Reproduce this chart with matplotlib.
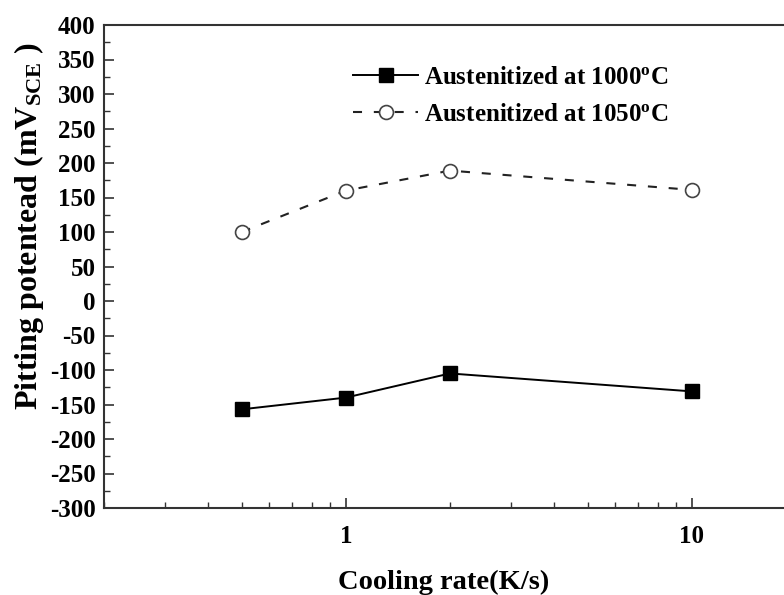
import matplotlib
matplotlib.use("Agg")
import matplotlib.pyplot as plt
from matplotlib.ticker import MultipleLocator, FixedLocator, LogLocator, NullFormatter, FixedFormatter

plt.rcParams['font.family'] = ['Liberation Serif', 'DejaVu Serif']
plt.rcParams['font.weight'] = 'bold'
plt.rcParams['mathtext.fontset'] = 'custom'
plt.rcParams['mathtext.rm'] = 'Liberation Serif:bold'
plt.rcParams['mathtext.it'] = 'Liberation Serif:bold'
plt.rcParams['mathtext.bf'] = 'Liberation Serif:bold'
plt.rcParams['lines.scale_dashes'] = False
plt.rcParams['axes.unicode_minus'] = False

# Data
cooling_rate = [0.5, 1, 2, 10]
pot_1000 = [-157, -140, -105, -131]
pot_1050 = [100, 160, 189, 161]
label_1000 = r"Austenitized at 1000$^{\rm o}$C"
label_1050 = r"Austenitized at 1050$^{\rm o}$C"
yticks = list(range(-300, 401, 50))
xticks = [1, 10]
xticklabels = ["1", "10"]

W, H = 784, 595
fig = plt.figure(figsize=(W / 100, H / 100), dpi=100)
left, right, top, bottom = 104, 796, 25, 508
ax = fig.add_axes([left / W, 1 - bottom / H, (right - left) / W, (bottom - top) / H])

ax.plot(cooling_rate, pot_1000, color='black', lw=1.4, marker='s', markersize=10,
        markerfacecolor='black', markeredgecolor='black', label=label_1000)
ax.plot(cooling_rate, pot_1050, color='#222222', lw=1.5, dashes=(6.5, 8.5), marker='o',
        markersize=10, markerfacecolor='white', markeredgecolor='#444444', markeredgewidth=1.2,
        label=label_1050)

ax.set_xscale('log')
ax.set_xlim(0.2, 20)
ax.set_ylim(-300, 400)
ax.yaxis.set_major_locator(FixedLocator(yticks))
ax.yaxis.set_minor_locator(MultipleLocator(25))
ax.xaxis.set_major_locator(FixedLocator(xticks))
ax.xaxis.set_major_formatter(FixedFormatter(xticklabels))
ax.xaxis.set_minor_locator(LogLocator(base=10, subs=range(2, 10)))
ax.xaxis.set_minor_formatter(NullFormatter())

for sp in ax.spines.values():
    sp.set_color('#333333')
    sp.set_linewidth(1.5)
ax.tick_params(which='major', direction='in', length=7, width=1.2, color='#333333',
               labelsize=18, pad=6)
ax.tick_params(which='minor', direction='in', length=4, width=1.0, color='#333333')
ax.tick_params(axis='x', which='major', pad=12)

fig.text(444 / W, 1 - 582 / H, "Cooling rate(K/s)", ha='center', va='center',
         fontsize=20.5, fontweight='bold')
fig.text(29 / W, 1 - 226 / H, r"Pitting potentead (mV$_{\rm SCE}$ )", ha='center', va='center',
         rotation=90, fontsize=23, fontweight='bold')

ax.legend(loc='upper left', bbox_to_anchor=(353 / W, 1 - 66 / H),
          bbox_transform=fig.transFigure, frameon=False, fontsize=18,
          handlelength=2.6, handletextpad=0.25, labelspacing=0.55,
          borderpad=0, borderaxespad=0)

fig.savefig("out.png", dpi=100)
